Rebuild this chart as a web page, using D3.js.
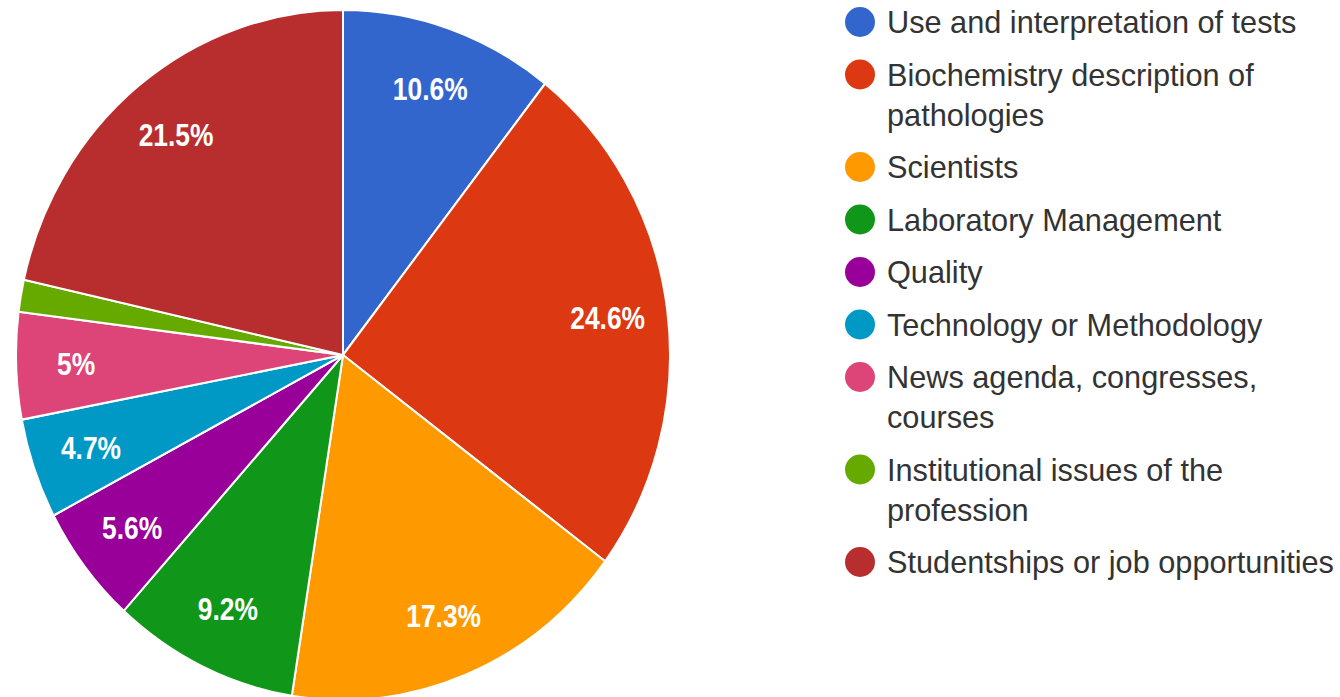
<!DOCTYPE html>
<html>
<head>
<meta charset="utf-8">
<script src="https://cdn.jsdelivr.net/npm/d3@7"></script>
<style>
  html, body { margin: 0; padding: 0; background: #fff; }
  svg { display: block; }
</style>
</head>
<body>
<svg id="chart" width="1340" height="697"></svg>
<script>
// Topics of interest, in slice order (clockwise from 12 o'clock)
const categories = [
  "Use and interpretation of tests",
  "Biochemistry description of pathologies",
  "Scientists",
  "Laboratory Management",
  "Quality",
  "Technology or Methodology",
  "News agenda, congresses, courses",
  "Institutional issues of the profession",
  "Studentships or job opportunities"
];
const shares = [10.6, 24.6, 17.3, 9.2, 5.6, 4.7, 5, 1.5, 21.5];
const percentLabels = ["10.6%", "24.6%", "17.3%", "9.2%", "5.6%", "4.7%", "5%", "", "21.5%"];
const palette = ["#3366cc", "#dc3912", "#ff9900", "#109618", "#990099",
                 "#0099c6", "#dd4477", "#66aa00", "#b82e2e"];

const svg = d3.select("#chart");

// Pie geometry
const cx = 343, cy = 355, radius = 327, yStretch = 1.055;
const labelRadius = 267;

const color = d3.scaleOrdinal().domain(categories).range(palette);
const pie = d3.pie().sort(null).value(d => d.value);
const arcs = pie(categories.map((c, i) => ({ name: c, value: shares[i], label: percentLabels[i] })));
const arc = d3.arc().innerRadius(0).outerRadius(radius);
const labelArc = d3.arc().innerRadius(labelRadius).outerRadius(labelRadius);

const pieG = svg.append("g")
  .attr("transform", `translate(${cx},${cy}) scale(1,${yStretch})`);

pieG.selectAll("path.slice")
  .data(arcs)
  .join("path")
  .attr("class", "slice")
  .attr("d", arc)
  .attr("fill", d => color(d.data.name))
  .attr("stroke", "#ffffff")
  .attr("stroke-width", 2)
  .attr("stroke-linejoin", "round");

// Percentage labels inside slices
svg.append("g")
  .selectAll("text")
  .data(arcs.filter(d => d.data.label))
  .join("text")
  .attr("transform", d => {
    const [x, y] = labelArc.centroid(d);
    return `translate(${cx + x},${cy + y * yStretch}) scale(0.88,1.02)`;
  })
  .attr("text-anchor", "middle")
  .attr("dy", "0.36em")
  .attr("fill", "#ffffff")
  .attr("font-family", "'Liberation Sans', Arial, sans-serif")
  .attr("font-weight", "bold")
  .attr("font-size", 30)
  .text(d => d.data.label);

// Legend
const legend = svg.append("g").attr("font-family", "'Liberation Sans', Arial, sans-serif");
const legendX = 860, textX = 887, maxTextWidth = 470;
const rowGap = 52.5, lineGap = 40;
let rowY = 22;

categories.forEach((name, i) => {
  const item = legend.append("g");
  item.append("circle")
    .attr("cx", legendX)
    .attr("cy", rowY)
    .attr("r", 15)
    .attr("fill", color(name));

  const text = item.append("text")
    .attr("x", textX)
    .attr("y", rowY + 11)
    .attr("fill", "#333333")
    .attr("font-size", 30.7);

  // wrap words into lines that fit the legend column
  const words = name.split(" ");
  let line = [];
  let lineCount = 0;
  let tspan = text.append("tspan").attr("x", textX).attr("dy", 0);
  words.forEach(w => {
    line.push(w);
    tspan.text(line.join(" "));
    if (tspan.node().getComputedTextLength() > maxTextWidth && line.length > 1) {
      line.pop();
      tspan.text(line.join(" "));
      line = [w];
      lineCount++;
      tspan = text.append("tspan").attr("x", textX).attr("dy", lineGap).text(w);
    }
  });

  rowY += rowGap + lineCount * lineGap;
});
</script>
</body>
</html>
